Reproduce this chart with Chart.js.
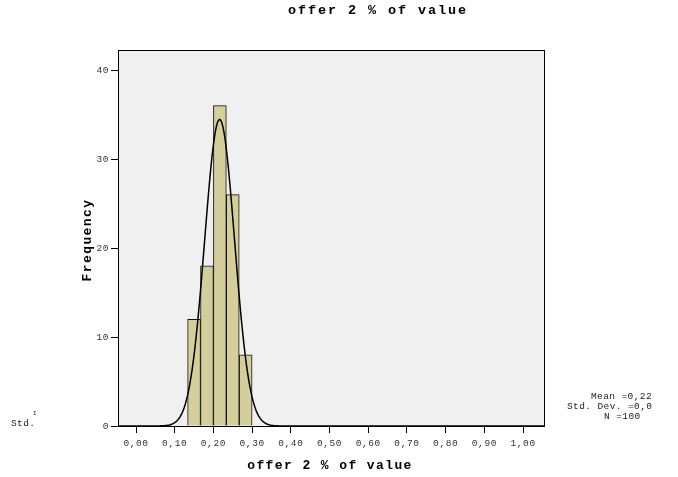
<!DOCTYPE html>
<html>
<head>
<meta charset="utf-8">
<script src="https://cdn.jsdelivr.net/npm/chart.js@4/dist/chart.umd.min.js"></script>
<style>
  html, body { margin: 0; padding: 0; background: #fff; }
  #wrap { width: 678px; height: 477px; }
</style>
</head>
<body>
<div id="wrap"><canvas id="hist" width="678" height="477"></canvas></div>
<script>
// histogram bins (centres) and counts
const binCenters = [0.15, 0.1833, 0.2167, 0.25, 0.2833];
const binCounts  = [12, 18, 36, 26, 8];
const binWidth   = 1 / 30;

// fitted normal curve parameters
const meanVal = 0.216;
const sdVal   = 0.0386;
const nVal    = 100;

const xTicks = [0, 0.1, 0.2, 0.3, 0.4, 0.5, 0.6, 0.7, 0.8, 0.9, 1.0];
const yTicks = [0, 10, 20, 30, 40];

const titleText = 'offer 2 % of value';
const xTitle    = 'offer 2 % of value';
const yTitle    = 'Frequency';
const statLines = ['Mean =0,22', 'Std. Dev. =0,0', 'N =100'];

const MONO = '"Liberation Mono", "Courier New", monospace';

// normal density scaled to counts per bin
const curve = [];
for (let i = 0; i <= 400; i++) {
  const x = -0.05 + i * (1.11 / 400);
  const z = (x - meanVal) / sdVal;
  curve.push({ x, y: nVal * binWidth / (sdVal * Math.sqrt(2 * Math.PI)) * Math.exp(-0.5 * z * z) });
}

const fmtTick = v => v.toFixed(2).replace('.', ',');

const frame = {
  id: 'frame',
  beforeDraw(chart) {
    const { ctx, chartArea: a } = chart;
    ctx.save();
    ctx.fillStyle = '#f0f0f0';
    ctx.fillRect(a.left, a.top, a.right - a.left, a.bottom - a.top);
    ctx.restore();
    ctx.letterSpacing = '0.6px';
  },
  afterDatasetsDraw(chart) {
    const { ctx, chartArea: a } = chart;
    ctx.save();
    ctx.strokeStyle = '#000';
    ctx.lineWidth = 1;
    ctx.strokeRect(Math.round(a.left) + 0.5, Math.round(a.top) + 0.5,
                   Math.round(a.right - a.left), Math.round(a.bottom - a.top));
    ctx.restore();
  },
  afterDraw(chart) {
    const { ctx } = chart;
    ctx.save();
    ctx.fillStyle = '#000';
    ctx.textAlign = 'center';
    ctx.textBaseline = 'middle';

    ctx.font = 'bold 13.5px ' + MONO;
    ctx.letterSpacing = '1.9px';
    ctx.fillText(titleText, 378, 11);

    ctx.font = 'bold 13px ' + MONO;
    ctx.letterSpacing = '1.4px';
    ctx.fillText(xTitle, 330, 466);

    ctx.save();
    ctx.translate(88, 240);
    ctx.rotate(-Math.PI / 2);
    ctx.fillText(yTitle, 0, 0);
    ctx.restore();

    // summary block at the right, partly clipped copy at the left
    ctx.font = '9.5px ' + MONO;
    ctx.letterSpacing = '0.4px';
    ctx.fillStyle = '#222';
    ctx.textAlign = 'left';
    ctx.fillText(statLines[0], 591, 396);
    ctx.fillText(statLines[1], 567, 406);
    ctx.fillText(statLines[2], 604, 416);

    ctx.fillText('Std.', 11, 423);
    ctx.font = '6px ' + MONO;
    ctx.fillText('I', 33, 413);

    ctx.restore();
    ctx.letterSpacing = '0px';
  }
};

new Chart(document.getElementById('hist'), {
  type: 'bar',
  data: {
    datasets: [
      {
        type: 'line',
        data: curve,
        borderColor: '#000',
        borderWidth: 1.5,
        pointRadius: 0,
        tension: 0,
        order: 0,
      },
      {
        type: 'bar',
        data: binCenters.map((x, i) => ({ x, y: binCounts[i] })),
        backgroundColor: '#d3ce9a',
        borderColor: '#111',
        borderWidth: 1,
        barPercentage: 1,
        categoryPercentage: 1,
        order: 1,
      },
    ],
  },
  plugins: [frame],
  options: {
    responsive: false,
    animation: false,
    layout: { padding: { left: 0, right: 134, top: 50, bottom: 0 } },
    plugins: { legend: { display: false }, tooltip: { enabled: false }, title: { display: false } },
    scales: {
      x: {
        type: 'linear',
        min: -0.0465,
        max: 1.054,
        offset: false,
        afterBuildTicks: s => { s.ticks = xTicks.map(value => ({ value })); },
        afterFit: s => { s.height = 51; },
        grid: { display: true, drawOnChartArea: false, drawTicks: true, tickLength: 7, color: '#000', offset: false },
        border: { display: true, color: '#000' },
        ticks: { callback: v => fmtTick(v), color: '#333', font: { family: MONO, size: 9.5 }, padding: 5, maxRotation: 0 },
      },
      y: {
        min: 0,
        max: 42.25,
        afterBuildTicks: s => { s.ticks = yTicks.map(value => ({ value })); },
        afterFit: s => { s.width = 118; },
        grid: { display: true, drawOnChartArea: false, drawTicks: true, tickLength: 7, color: '#000' },
        border: { display: true, color: '#000' },
        ticks: { color: '#333', font: { family: MONO, size: 9.5 }, padding: 2 },
      },
    },
  },
});
</script>
</body>
</html>
